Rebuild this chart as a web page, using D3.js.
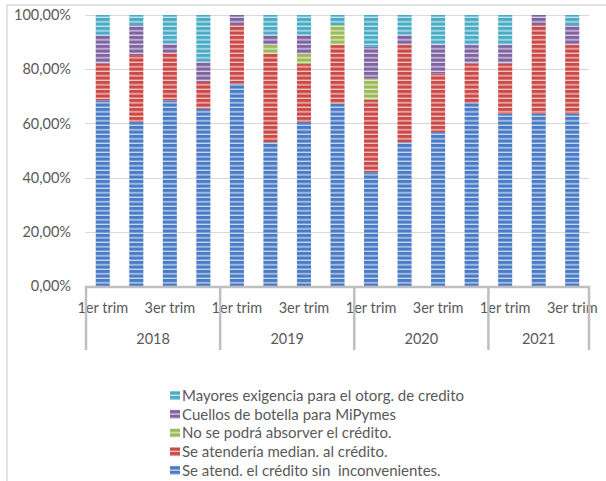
<!DOCTYPE html>
<html>
<head>
<meta charset="utf-8">
<script src="https://cdn.jsdelivr.net/npm/d3@7"></script>
<style>
  body { margin: 0; background: #fff; }
  svg text { font-family: Lato, "Open Sans", sans-serif; fill: #595959; white-space: pre; }
</style>
</head>
<body>
<svg id="chart" width="606" height="481"></svg>
<script>
// categories
var years = ["2018", "2019", "2020", "2021"];
var quarters = ["1er trim", "2do trim", "3er trim", "4to trim"];
var quartersPerYear = [4, 4, 4, 3];

// series (percent of each bar), order = bottom to top
var seriesNames = [
  "Se atend. el crédito sin  inconvenientes.",
  "Se atendería median. al crédito.",
  "No se podrá absorver el crédito.",
  "Cuellos de botella para MiPymes",
  "Mayores exigencia para el otorg. de credito"
];
var sinInconv   = [68.5, 60.5, 68.5, 65.4, 74.7, 53.1, 60.5, 67.3, 42.0, 53.1, 56.8, 67.5, 63.6, 63.6, 63.6];
var medianAl    = [13.6, 24.7, 17.5,  9.9, 21.6, 32.5, 21.4, 21.6, 26.8, 35.8, 21.6, 14.6, 18.5, 32.7, 25.3];
var noAbsorber  = [ 0.0,  0.0,  0.0,  0.0,  0.0,  3.3,  3.7,  7.4,  7.7,  0.0,  0.0,  0.0,  0.0,  0.0,  0.0];
var cuellos     = [10.5, 11.1,  3.5,  7.4,  3.7,  3.9,  7.2,  0.0, 11.8,  3.9, 10.5,  6.8,  6.8,  3.7,  7.4];
var mayoresExig = [ 7.4,  3.7, 10.5, 17.3,  0.0,  7.2,  7.2,  3.7, 11.7,  7.2, 11.1, 11.1, 11.1,  0.0,  3.7];

var yTicks = [0, 0.2, 0.4, 0.6, 0.8, 1.0];
var colors = ["#4a7cc6", "#cb4a47", "#9bbb59", "#8064a2", "#4bacc6"];

// build rows
var rows = [];
var k = 0;
years.forEach(function(yr, yi) {
  for (var q = 0; q < quartersPerYear[yi]; q++) {
    var r = { id: yr + "-" + q, year: yr, q: q };
    r[seriesNames[0]] = sinInconv[k];
    r[seriesNames[1]] = medianAl[k];
    r[seriesNames[2]] = noAbsorber[k];
    r[seriesNames[3]] = cuellos[k];
    r[seriesNames[4]] = mayoresExig[k];
    rows.push(r);
    k++;
  }
});

var svg = d3.select("#chart");

var plotLeft = 86, plotRight = 589, plotTop = 15, plotBottom = 286;

var x = d3.scaleBand()
  .domain(rows.map(function(d) { return d.id; }))
  .range([plotLeft, plotRight])
  .paddingInner(0.58)
  .paddingOuter(0.29);

var y = d3.scaleLinear().domain([0, 1]).range([plotBottom, plotTop]);

// outer frame
svg.append("rect")
  .attr("x", 7).attr("y", 5)
  .attr("width", 700).attr("height", 600)
  .attr("fill", "none")
  .attr("stroke", "#d9d9d9")
  .attr("stroke-width", 1.5);

// stripe patterns
var defs = svg.append("defs");
seriesNames.forEach(function(name, i) {
  var p = defs.append("pattern")
    .attr("id", "pat" + i)
    .attr("patternUnits", "userSpaceOnUse")
    .attr("width", 8).attr("height", 4.5);
  p.append("rect").attr("width", 8).attr("height", 4.5).attr("fill", colors[i]);
  p.append("rect").attr("y", 3.2).attr("width", 8).attr("height", 1.3)
    .attr("fill", "#fff").attr("fill-opacity", 0.7);
});

// gridlines
svg.append("g")
  .selectAll("line")
  .data(yTicks.filter(function(t) { return t > 0; }))
  .join("line")
  .attr("x1", plotLeft - 1).attr("x2", plotRight)
  .attr("y1", function(d) { return Math.round(y(d)) + 0.5; })
  .attr("y2", function(d) { return Math.round(y(d)) + 0.5; })
  .attr("stroke", "#d9d9d9")
  .attr("stroke-width", 1);

// y axis labels
var yAxis = d3.axisLeft(y)
  .tickValues(yTicks)
  .tickSize(0)
  .tickPadding(0)
  .tickFormat(function(d) { return (d * 100).toFixed(2).replace(".", ",") + "%"; });

var yg = svg.append("g")
  .attr("transform", "translate(71,0)")
  .call(yAxis);
yg.select(".domain").remove();
yg.selectAll("text")
  .style("font-size", "14.5px")
  .attr("fill", "#595959");

// stacked bars
var stack = d3.stack().keys(seriesNames).value(function(d, key) { return d[key] / 100; });
var layers = stack(rows);

svg.append("g")
  .selectAll("g")
  .data(layers)
  .join("g")
  .attr("fill", function(d, i) { return "url(#pat" + i + ")"; })
  .selectAll("rect")
  .data(function(d) { return d; })
  .join("rect")
  .attr("x", function(d) { return x(d.data.id); })
  .attr("width", x.bandwidth())
  .attr("y", function(d) { return y(d[1]); })
  .attr("height", function(d) { return y(d[0]) - y(d[1]); });

// x axis: category labels (every other shown)
var xAxis = d3.axisBottom(x)
  .tickSize(0)
  .tickPadding(0)
  .tickFormat(function(id) {
    var r = rows.find(function(d) { return d.id === id; });
    return r.q % 2 === 0 ? quarters[r.q] : "";
  });

var xg = svg.append("g")
  .attr("transform", "translate(0,303)")
  .call(xAxis);
xg.select(".domain").remove();
xg.selectAll("text").style("font-size", "14.5px").attr("fill", "#595959");

// x axis line
svg.append("line")
  .attr("x1", plotLeft - 1).attr("x2", plotRight + 1)
  .attr("y1", plotBottom + 1).attr("y2", plotBottom + 1)
  .attr("stroke", "#bfbfbf").attr("stroke-width", 2.5);

// year group separators and labels
var bounds = [];
var start = 0;
quartersPerYear.forEach(function(n) {
  bounds.push([start, start + n - 1]);
  start += n;
});
var edges = [plotLeft].concat(bounds.map(function(b) {
  var last = rows[b[1]].id;
  return x(last) + x.bandwidth() + x.step() * x.paddingInner() / 2;
}));
edges[edges.length - 1] = plotRight;

svg.append("g")
  .selectAll("line")
  .data(edges)
  .join("line")
  .attr("x1", function(d) { return d; }).attr("x2", function(d) { return d; })
  .attr("y1", plotBottom).attr("y2", 350)
  .attr("stroke", "#bfbfbf").attr("stroke-width", 2.5);

svg.append("g")
  .selectAll("text")
  .data(years)
  .join("text")
  .attr("x", function(d, i) { return (edges[i] + edges[i + 1]) / 2; })
  .attr("y", 344)
  .attr("text-anchor", "middle")
  .style("font-size", "14.5px")
  .text(function(d) { return d; });

// legend (top to bottom = last series first)
var legendItems = seriesNames.slice().reverse();
var lg = svg.append("g").attr("transform", "translate(170,396)");
var li = lg.selectAll("g")
  .data(legendItems)
  .join("g")
  .attr("transform", function(d, i) { return "translate(0," + (i * 18.7) + ")"; });
li.append("rect")
  .attr("x", 0).attr("y", -5)
  .attr("width", 10).attr("height", 9)
  .attr("fill", function(d) { return "url(#pat" + seriesNames.indexOf(d) + ")"; });
li.append("text")
  .attr("x", 12).attr("y", 5)
  .style("font-size", "15px")
  .text(function(d) { return d; });
</script>
</body>
</html>
